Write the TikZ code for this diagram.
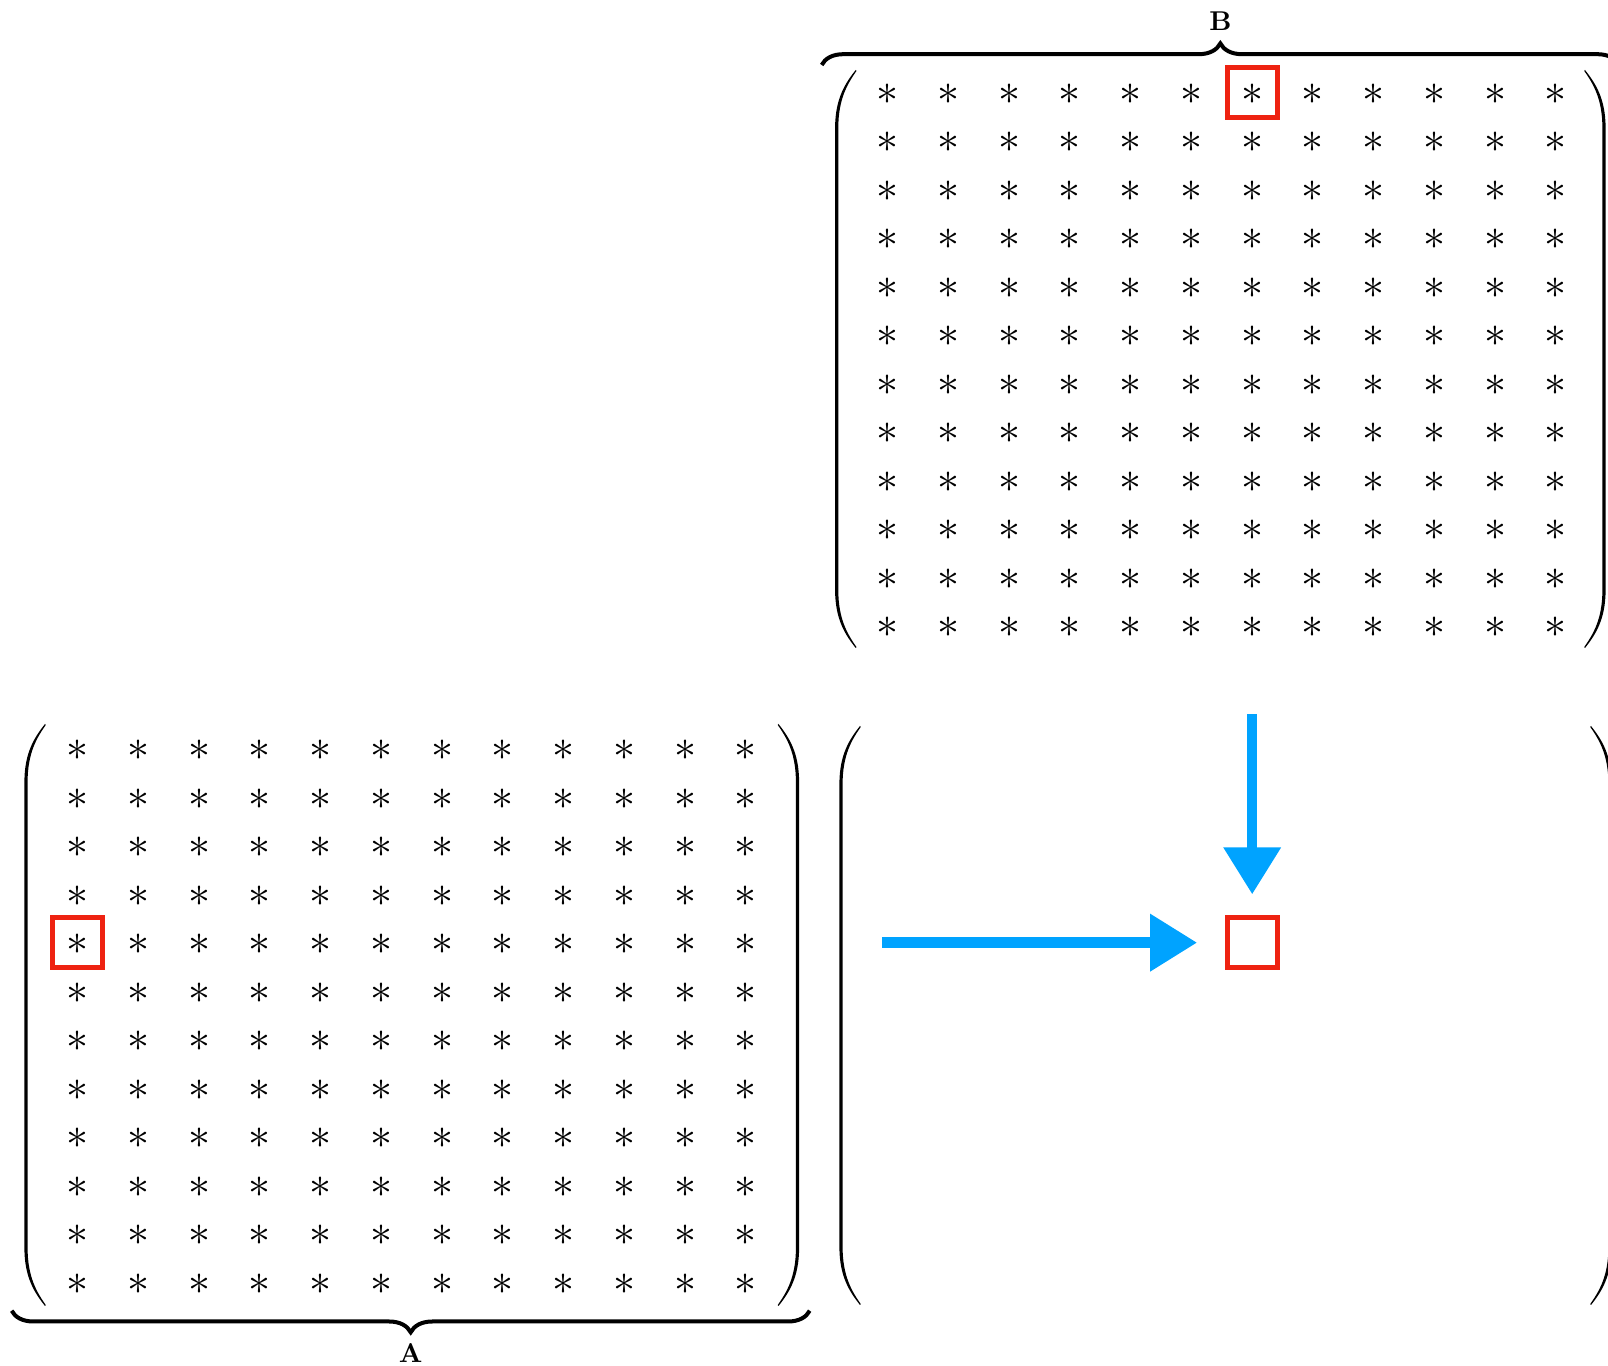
\documentclass[tikz,border=0pt]{standalone}
\usetikzlibrary{arrows.meta,decorations.pathreplacing}
\definecolor{arrblue}{RGB}{0,163,255}
\definecolor{boxred}{RGB}{238,34,17}
\newcommand\drawParen[4]{%
  \begin{scope}[shift={(#1,0)},xscale=#2]
    \fill[black] (19,#3) .. controls (9,{#3+12.7}) and (-1.6,{#3+28}) .. (-1.6,{#3+58})
      -- (-1.6,{#4-58}) .. controls (-1.6,{#4-28}) and (9,{#4-12.7}) .. (19,#4)
      -- (19.8,{#4-0.9}) .. controls (10.8,{#4-13.8}) and (1.6,{#4-29}) .. (1.6,{#4-58})
      -- (1.6,{#3+58}) .. controls (1.6,{#3+29}) and (10.8,{#3+13.8}) .. (19.8,{#3+0.9}) -- cycle;
  \end{scope}}
\begin{document}
\begin{tikzpicture}[x=0.25pt,y=-0.25pt,
  ast/.style={inner sep=0pt, font=\normalsize, scale=1.1, transform shape},
  redbox/.style={draw=boxred, line width=1.25pt, minimum size=12.5pt, inner sep=0pt},
  bluearr/.style={draw=arrblue, line width=2.6pt, -{Triangle[length=11.75pt,width=13.75pt]}},
  braceup/.style={decorate, decoration={brace, amplitude=5.4pt}, line width=1pt},
  bracedown/.style={decorate, decoration={brace, mirror, amplitude=5.4pt}, line width=1pt},
  lbl/.style={inner sep=0pt, scale=0.68, transform shape}]
\useasboundingbox (0,0) rectangle (1608,1366);
\foreach \r in {1,...,12}{
  \foreach \c in {1,...,12}{
    \node[ast] (A-\r-\c) at ({77.7+(\c-1)*60.75},{750.5+(\r-1)*48.49}) {$\ast$};
    \node[ast] (B-\r-\c) at ({887.7+(\c-1)*60.75},{94+(\r-1)*48.49}) {$\ast$};
  }}
\drawParen{26}{1}{724}{1306}
\drawParen{797.5}{-1}{724}{1306}
\drawParen{841}{1}{726}{1305}
\drawParen{1610}{-1}{726}{1305}
\drawParen{836.7}{1}{70}{648}
\drawParen{1604}{-1}{70}{648}
\node[redbox] (rA) at ([yshift=0.45pt]A-5-1) {};
\node[redbox] (rB) at ([yshift=0.4pt]B-1-7) {};
\node[redbox] (rC) at (rB |- rA) {};
\coordinate (vs) at (rC |- 0,714);
\coordinate (hs) at (882.3,0 |- rC);
\draw[bluearr, shorten >=5.2pt] (vs) -- (rC);
\draw[bluearr, shorten >=6.9pt] (hs) -- (rC);
\draw[braceup] (821.7,65) -- (1619,65);
\draw[bracedown] (11.7,1310.7) -- (809.7,1310.7);
\node[lbl] (labB) at (1220.4,21.5) {$\mathbf{B}$};
\node[lbl] (labA) at (410.7,1353.3) {$\mathbf{A}$};
\end{tikzpicture}
\end{document}
